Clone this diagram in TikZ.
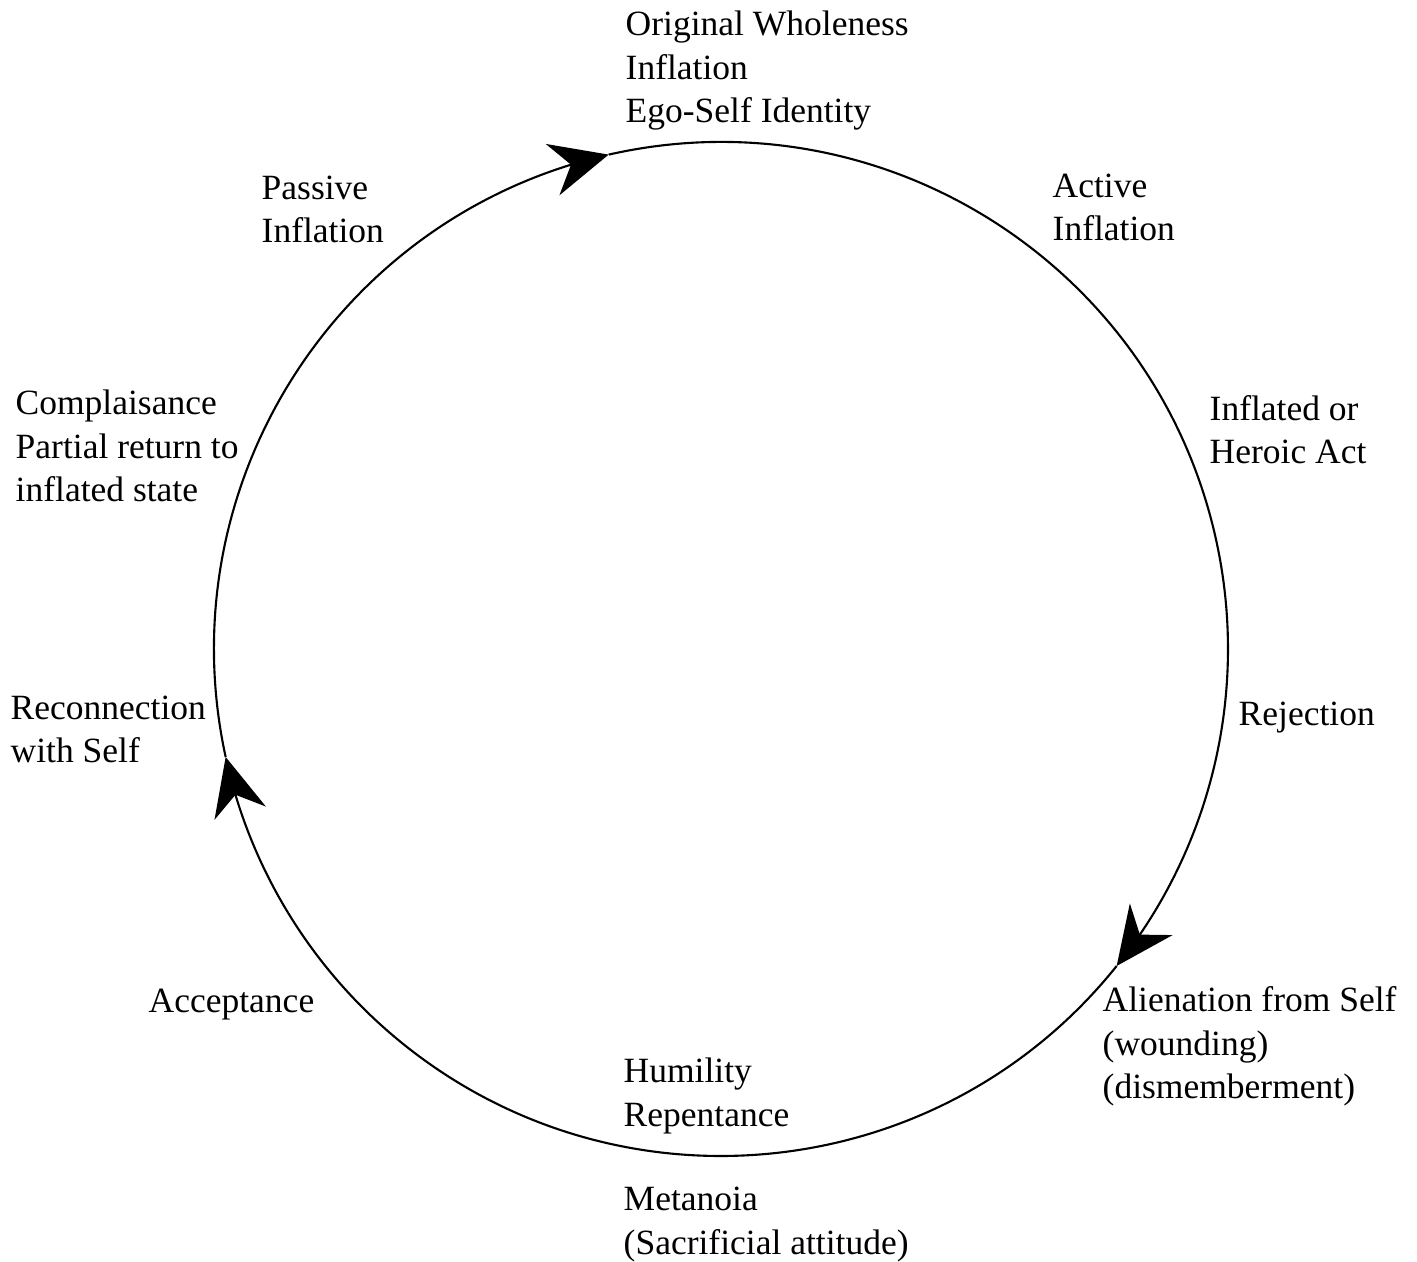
\documentclass[tikz,border=0pt]{standalone}
\usepackage{fontspec}
\setmainfont{Liberation Serif}
\usetikzlibrary{arrows.meta,bending}
\tikzset{
  stage/.style={anchor=base west,inner sep=0pt,align=left,font=\fontsize{10.1}{12.4}\selectfont},
  cyc/.style={line width=0.6pt,-{Stealth[length=5.8mm,width=5.3mm,inset=1.9mm,flex]}}
}
\begin{document}
\begin{tikzpicture}
\useasboundingbox (0,0) rectangle (14.17,12.61);
\coordinate (c) at (7.21,6.12);
% cycle, clockwise
\draw[cyc] (c) ++(192.3:5.07) arc[start angle=192.3,end angle=102.8,radius=5.07];
\draw[cyc] (c) ++(102.8:5.07) arc[start angle=102.8,end angle=-38.7,radius=5.07];
\draw[cyc] (c) ++(-38.7:5.07) arc[start angle=-38.7,end angle=-167.7,radius=5.07];
% stages (base = last line)
\node[stage] (whole) at (6.25,11.38) {Original Wholeness\\Inflation\\Ego-Self Identity};
\node[stage] (active) at (10.52,10.20) {Active\\Inflation};
\node[stage] (heroic) at (12.09,7.97) {Inflated or\\Heroic Act};
\node[stage] (reject) at (12.38,5.35) {Rejection};
\node[stage] (alien) at (11.02,1.62) {Alienation from Self\\(wounding)\\(dismemberment)};
\node[stage] (humil) at (6.23,1.35) {Humility\\Repentance};
\node[stage] (meta) at (6.23,0.07) {Metanoia\\(Sacrificial attitude)};
\node[stage] (accept) at (1.48,2.48) {Acceptance};
\node[stage] (reconn) at (0.10,4.98) {Reconnection\\with Self};
\node[stage] (compl) at (0.15,7.59) {Complaisance\\Partial return to\\inflated state};
\node[stage] (passive) at (2.61,10.18) {Passive\\Inflation};
\end{tikzpicture}
\end{document}
